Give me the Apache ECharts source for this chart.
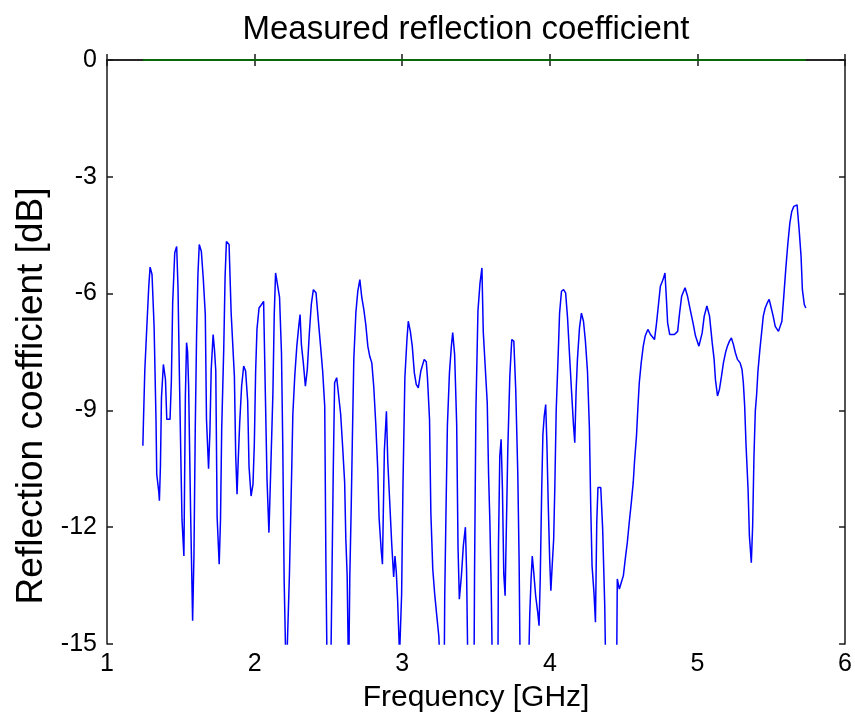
<!DOCTYPE html>
<html>
<head>
<meta charset="utf-8">
<title>Measured reflection coefficient</title>
<script src="https://cdn.jsdelivr.net/npm/echarts@6/dist/echarts.min.js"></script>
<style>
  html, body { margin: 0; padding: 0; background: #ffffff; }
  #chart { width: 855px; height: 718px; }
</style>
</head>
<body>
<div id="chart"></div>
<script>
// Frequency sweep [GHz]
const freqGHz = [
  1.243, 1.247, 1.256, 1.270, 1.283, 1.292, 1.305, 1.319, 1.332, 1.337,
  1.351, 1.355, 1.362, 1.369, 1.382, 1.396, 1.405, 1.427, 1.436, 1.445,
  1.459, 1.472, 1.481, 1.490, 1.499, 1.508, 1.521, 1.531, 1.539, 1.546,
  1.553, 1.566, 1.580, 1.589, 1.598, 1.607, 1.616, 1.625, 1.639, 1.652,
  1.666, 1.674, 1.688, 1.697, 1.706, 1.719, 1.728, 1.737, 1.746, 1.760,
  1.769, 1.777, 1.791, 1.800, 1.809, 1.827, 1.841, 1.863, 1.872, 1.881,
  1.890, 1.899, 1.912, 1.926, 1.939, 1.953, 1.962, 1.976, 1.989, 1.998,
  2.007, 2.016, 2.030, 2.047, 2.061, 2.070, 2.084, 2.097, 2.111, 2.124,
  2.133, 2.142, 2.155, 2.169, 2.182, 2.191, 2.200, 2.214, 2.227, 2.236,
  2.250, 2.259, 2.272, 2.286, 2.299, 2.308, 2.317, 2.330, 2.344, 2.357,
  2.371, 2.384, 2.398, 2.416, 2.434, 2.448, 2.461, 2.475, 2.483, 2.492,
  2.515, 2.524, 2.533, 2.542, 2.556, 2.569, 2.583, 2.596, 2.610, 2.618,
  2.627, 2.637, 2.645, 2.654, 2.663, 2.672, 2.686, 2.699, 2.713, 2.726,
  2.740, 2.753, 2.767, 2.780, 2.794, 2.807, 2.821, 2.834, 2.843, 2.857,
  2.866, 2.879, 2.893, 2.902, 2.915, 2.929, 2.942, 2.951, 2.960, 2.969,
  2.982, 2.996, 3.005, 3.018, 3.032, 3.041, 3.055, 3.068, 3.082, 3.095,
  3.109, 3.126, 3.149, 3.163, 3.171, 3.185, 3.194, 3.207, 3.220, 3.234,
  3.248, 3.261, 3.284, 3.288, 3.297, 3.306, 3.320, 3.333, 3.342, 3.355,
  3.369, 3.378, 3.387, 3.401, 3.414, 3.428, 3.436, 3.446, 3.486, 3.490,
  3.499, 3.513, 3.527, 3.540, 3.549, 3.562, 3.576, 3.585, 3.594, 3.603,
  3.612, 3.648, 3.652, 3.661, 3.670, 3.679, 3.688, 3.697, 3.706, 3.715,
  3.729, 3.742, 3.756, 3.769, 3.783, 3.792, 3.800, 3.854, 3.864, 3.873,
  3.881, 3.891, 3.904, 3.918, 3.927, 3.935, 3.945, 3.953, 3.962, 3.972,
  3.980, 3.989, 3.999, 4.007, 4.016, 4.026, 4.034, 4.043, 4.057, 4.066,
  4.079, 4.093, 4.107, 4.120, 4.134, 4.147, 4.160, 4.169, 4.178, 4.187,
  4.201, 4.214, 4.228, 4.241, 4.255, 4.268, 4.277, 4.286, 4.299, 4.309,
  4.318, 4.326, 4.345, 4.358, 4.372, 4.380, 4.452, 4.457, 4.471, 4.484,
  4.498, 4.511, 4.525, 4.538, 4.552, 4.565, 4.574, 4.587, 4.596, 4.606,
  4.619, 4.633, 4.646, 4.664, 4.682, 4.709, 4.722, 4.736, 4.749, 4.767,
  4.780, 4.790, 4.798, 4.812, 4.825, 4.844, 4.866, 4.879, 4.893, 4.916,
  4.933, 4.951, 4.970, 4.987, 5.010, 5.019, 5.032, 5.046, 5.064, 5.082,
  5.100, 5.113, 5.122, 5.136, 5.149, 5.163, 5.176, 5.190, 5.203, 5.217,
  5.230, 5.244, 5.257, 5.271, 5.289, 5.302, 5.311, 5.320, 5.329, 5.343,
  5.352, 5.365, 5.374, 5.383, 5.392, 5.401, 5.410, 5.423, 5.437, 5.446,
  5.459, 5.473, 5.486, 5.500, 5.513, 5.527, 5.549, 5.558, 5.572, 5.585,
  5.599, 5.612, 5.626, 5.639, 5.653, 5.675, 5.689, 5.702, 5.711, 5.724,
  5.734
];

// Measured reflection coefficient [dB], one value per frequency above
const reflectionDb = [
  -9.91, -9.27, -7.99, -6.84, -5.81, -5.32, -5.51, -6.84, -9.23, -10.64,
  -11.10, -11.32, -10.43, -8.67, -7.82, -8.20, -9.23, -9.23, -8.25, -6.23,
  -4.95, -4.79, -5.85, -7.99, -9.95, -11.80, -12.74, -8.63, -7.26, -7.50,
  -8.38, -11.54, -14.40, -12.74, -9.44, -7.05, -5.51, -4.74, -4.91, -5.60,
  -6.54, -9.23, -10.50, -9.57, -7.95, -7.05, -7.44, -7.99, -11.74, -12.95,
  -11.80, -9.49, -7.40, -5.56, -4.66, -4.74, -6.49, -8.12, -10.17, -11.15,
  -10.17, -9.32, -8.38, -7.86, -7.99, -8.76, -10.43, -11.20, -10.90, -9.87,
  -7.99, -6.92, -6.37, -6.28, -6.20, -8.03, -10.77, -12.14, -10.30, -8.55,
  -6.54, -5.47, -5.43, -6.10, -7.52, -9.95, -13.33, -16.00, -16.00, -13.20,
  -10.77, -9.10, -8.12, -7.35, -6.84, -6.54, -7.31, -7.78, -8.38, -7.95,
  -7.00, -6.28, -5.90, -5.98, -6.79, -7.40, -7.99, -8.89, -12.90, -16.00,
  -16.00, -13.28, -10.50, -8.29, -8.16, -8.20, -9.10, -9.91, -10.85, -12.30,
  -13.25, -16.00, -13.25, -11.58, -9.57, -7.69, -6.49, -5.94, -5.64, -6.10,
  -6.41, -6.79, -7.35, -7.61, -7.78, -8.38, -9.36, -10.50, -11.74, -12.56,
  -12.95, -10.04, -9.02, -10.30, -11.32, -12.44, -13.28, -12.74, -13.16, -13.89,
  -15.30, -13.72, -10.94, -8.16, -7.18, -6.71, -6.97, -7.35, -8.03, -8.33,
  -8.42, -7.99, -7.69, -7.75, -8.16, -9.23, -11.63, -13.08, -13.72, -14.27,
  -14.80, -16.00, -16.00, -13.76, -11.49, -9.40, -8.03, -7.35, -7.00, -7.56,
  -9.36, -12.51, -13.85, -13.25, -12.48, -12.00, -13.12, -16.00, -16.00, -13.16,
  -9.05, -6.45, -5.73, -5.34, -6.97, -7.86, -8.80, -10.64, -11.88, -13.59,
  -16.00, -16.00, -12.50, -10.17, -9.74, -11.03, -13.20, -13.76, -11.92, -10.04,
  -8.12, -7.18, -7.22, -8.46, -10.64, -12.90, -16.00, -16.00, -14.23, -13.33,
  -12.74, -13.16, -13.76, -14.19, -14.53, -13.33, -11.03, -9.62, -9.15, -8.85,
  -9.83, -11.37, -12.82, -13.63, -12.99, -12.31, -10.94, -9.02, -7.52, -6.50,
  -5.94, -5.90, -5.98, -6.62, -7.61, -8.50, -9.36, -9.83, -8.50, -7.69,
  -6.88, -6.50, -6.71, -7.22, -7.99, -9.44, -11.45, -12.99, -13.68, -14.44,
  -11.88, -10.98, -10.98, -12.05, -14.02, -16.00, -16.00, -13.33, -13.59, -13.42,
  -13.25, -12.82, -12.39, -11.88, -11.37, -10.85, -10.30, -9.66, -8.97, -8.29,
  -7.78, -7.35, -7.09, -6.92, -7.05, -7.18, -6.79, -6.28, -5.81, -5.64,
  -5.47, -6.15, -6.75, -7.05, -7.09, -7.05, -6.97, -6.50, -6.07, -5.85,
  -6.07, -6.41, -6.75, -7.09, -7.35, -7.39, -7.01, -6.58, -6.32, -6.58,
  -7.26, -7.69, -8.21, -8.63, -8.46, -8.12, -7.78, -7.52, -7.35, -7.22,
  -7.14, -7.31, -7.52, -7.69, -7.78, -7.95, -8.29, -8.89, -9.87, -11.03,
  -12.22, -12.91, -11.97, -10.17, -9.02, -8.59, -7.99, -7.44, -6.92, -6.58,
  -6.37, -6.24, -6.15, -6.37, -6.58, -6.84, -6.97, -7.01, -6.71, -6.07,
  -5.34, -4.74, -4.19, -3.89, -3.76, -3.72, -4.36, -5.04, -5.90, -6.28,
  -6.37
];

// 0 dB reference level drawn across the measured band
const referenceDb = [0, 0];

// Axis settings
const freqTicks = { min: 1, max: 6, step: 1 };
const dbTicks = { min: -15, max: 0, step: 3 };

const measured = freqGHz.map((f, i) => [f, reflectionDb[i]]);
const reference = [
  [freqGHz[0], referenceDb[0]],
  [freqGHz[freqGHz.length - 1], referenceDb[1]]
];

const FONT = '"Liberation Sans", Arial, Helvetica, sans-serif';
const frame = { lineStyle: { color: '#1a1a1a', width: 1.5 } };
const inTick = { show: true, inside: true, length: 6, lineStyle: { color: '#1a1a1a', width: 1.5 } };

const chart = echarts.init(document.getElementById('chart'), null, { renderer: 'canvas' });

chart.setOption({
  backgroundColor: '#ffffff',
  animation: false,
  title: {
    text: 'Measured reflection coefficient',
    left: 461,
    textAlign: 'center',
    top: 8,
    textStyle: { fontFamily: FONT, fontSize: 33, fontWeight: 'normal', color: '#000000' }
  },
  grid: { left: 107, right: 7, top: 60, bottom: 73, containLabel: false },
  xAxis: [
    {
      type: 'value', position: 'bottom',
      min: freqTicks.min, max: freqTicks.max, interval: freqTicks.step,
      axisLine: frame, axisTick: inTick, splitLine: { show: false },
      axisLabel: { fontFamily: FONT, fontSize: 25, color: '#000000', margin: 8 },
      name: 'Frequency [GHz]', nameLocation: 'middle', nameGap: 39,
      nameTextStyle: { fontFamily: FONT, fontSize: 30, color: '#000000' }
    },
    {
      type: 'value', position: 'top',
      min: freqTicks.min, max: freqTicks.max, interval: freqTicks.step,
      axisLine: frame, axisTick: inTick, splitLine: { show: false },
      axisLabel: { show: false }
    }
  ],
  yAxis: [
    {
      type: 'value', position: 'left',
      min: dbTicks.min, max: dbTicks.max, interval: dbTicks.step,
      axisLine: frame, axisTick: inTick, splitLine: { show: false },
      axisLabel: { fontFamily: FONT, fontSize: 25, color: '#000000', margin: 10 },
      name: 'Reflection coefficient [dB]', nameLocation: 'middle', nameGap: 55,
      nameRotate: 90,
      nameTextStyle: { fontFamily: FONT, fontSize: 37, color: '#000000', padding: [0, 88, 0, 0] }
    },
    {
      type: 'value', position: 'right',
      min: dbTicks.min, max: dbTicks.max, interval: dbTicks.step,
      axisLine: frame, axisTick: inTick, splitLine: { show: false },
      axisLabel: { show: false }
    }
  ],
  series: [
    {
      name: 'Reflection coefficient',
      type: 'line',
      data: measured,
      showSymbol: false,
      clip: true,
      lineStyle: { color: '#0000ff', width: 1.5 },
      z: 3
    },
    {
      name: '0 dB',
      type: 'line',
      data: reference,
      showSymbol: false,
      clip: false,
      lineStyle: { color: '#008000', width: 1.6 },
      z: 4
    }
  ]
});
</script>
</body>
</html>
